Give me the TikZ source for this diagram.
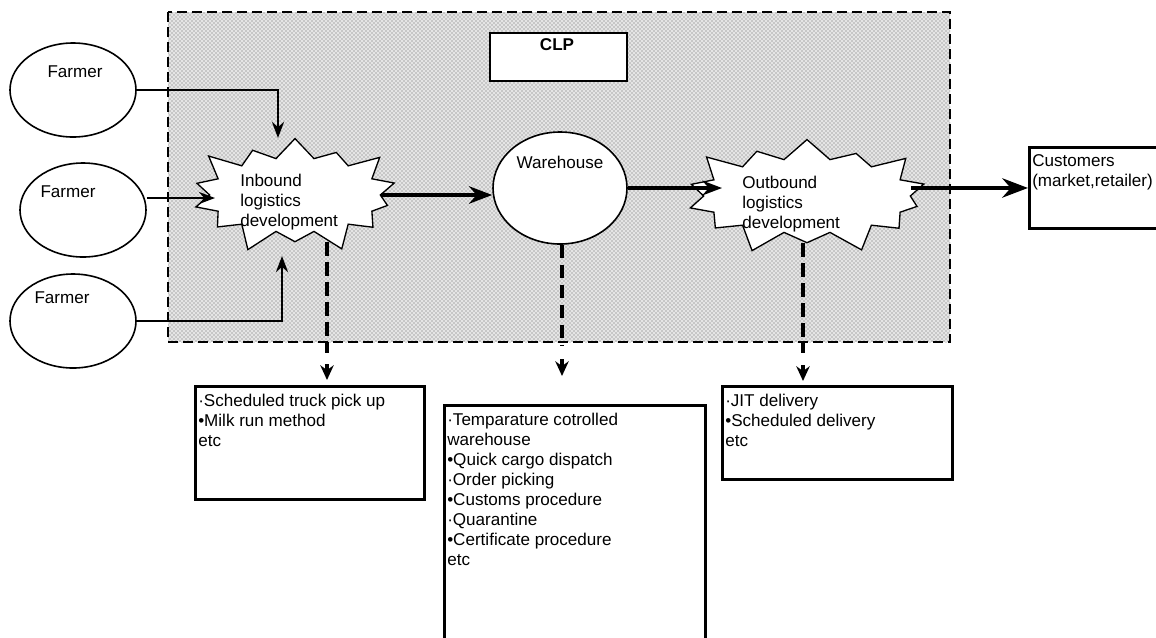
\documentclass[tikz,border=0pt]{standalone}
\usepackage{fontspec}
\setmainfont{Liberation Sans}
\usetikzlibrary{arrows.meta,shapes.geometric,shapes.symbols,patterns}
\begin{document}
\begin{tikzpicture}[x=0.75pt,y=-0.75pt,>=Stealth,font=\fontsize{12.8}{15}\selectfont]
\tikzstyle{farm}=[draw,ellipse,fill=white,line width=1.2pt,minimum width=94.5pt,minimum height=70.5pt,inner sep=0pt]
\tikzstyle{burst}=[draw,fill=white,starburst,random starburst=100,starburst points=14,starburst point height=20pt,line width=1pt,inner sep=0pt]
\tikzstyle{box}=[draw,fill=white,line width=2.2pt,anchor=north west,inner sep=0pt]
\tikzstyle{txt}=[anchor=north west,align=left,inner sep=3pt]
\tikzstyle{dline}=[line width=3pt,dash pattern=on 10pt off 5pt]
\tikzstyle{dtip}=[-{Stealth[length=11pt,width=10pt]},line width=3pt]
\useasboundingbox (0,0) rectangle (1156,637);
% CLP area
\fill[gray!20] (168,12) rectangle (950,342);
\path[pattern=crosshatch dots,pattern color=black!60] (168,12) rectangle (950,342);
\draw[line width=2.2pt,dash pattern=on 7.5pt off 3.75pt] (168,12) rectangle (950,342);
\node[box,line width=1.6pt,minimum width=102.75pt,minimum height=36pt] (clp) at (489,32) {};
\node[font=\fontsize{12.8}{15}\selectfont\bfseries] (clptxt) at (557,45) {CLP};
% farmers and warehouse
\node[farm] (f1) at (73,90) {};
\node (f1txt) at (75,72) {Farmer};
\node[farm] (f2) at (83,210) {};
\node (f2txt) at (68,192) {Farmer};
\node[farm] (f3) at (73,321) {};
\node (f3txt) at (62,298) {Farmer};
\node[farm,minimum width=100.5pt,minimum height=84pt] (wh) at (560,188) {};
\node (whtxt) at (560,162) {Warehouse};
\node[burst,minimum width=168pt,minimum height=96pt] (inb) at (295,195) {};
\node[txt,inner sep=0pt] (inbtxt) at (240,174) {Inbound\\logistics\\development};
\node[burst,minimum width=195pt,minimum height=96pt] (outb) at (807,196) {};
\node[txt,inner sep=0pt] (outbtxt) at (742,176) {Outbound\\logistics\\development};
% boxes
\node[box,minimum width=106.5pt,minimum height=60.75pt] (cust) at (1028,146) {};
\node[txt,yshift=-3pt] (custtxt) at (cust.north west) {Customers\\(market,retailer)};
\node[box,minimum width=171.75pt,minimum height=84.75pt] (b1) at (194,385) {};
\node[txt,yshift=-4pt] (b1txt) at (b1.north west) {·Scheduled truck pick up\\•Milk run method\\etc};
\node[box,minimum width=195.75pt,minimum height=180pt] (b2) at (443,404) {};
\node[txt,yshift=-4pt] (b2txt) at (b2.north west) {·Temparature cotrolled\\warehouse\\•Quick cargo dispatch\\·Order picking\\•Customs procedure\\·Quarantine\\•Certificate procedure\\etc};
\node[box,minimum width=172.5pt,minimum height=69.75pt] (b3) at (721,385) {};
\node[txt,yshift=-4pt] (b3txt) at (b3.north west) {·JIT delivery\\•Scheduled delivery\\etc};
% arrows
\coordinate (inbtop) at (278,138);
\coordinate (inbbot) at (282,256);
\coordinate (inbleft) at (215,198);
\coordinate (outbin) at (722,188);
\draw[->,line width=2pt] (f1.east) -| (inbtop);
\draw[->,line width=2pt] (f2.east |- inbleft) -- (inbleft);
\draw[->,line width=2pt] (f3.east) -| (inbbot);
\draw[->,line width=3.2pt] (inb.east) -- (inb.east -| wh.west);
\draw[->,line width=2.6pt] (wh.east |- outbin) -- (outbin);
\draw[->,line width=3.6pt] (outb.east |- cust.west) -- (cust.west);
% dashed links down to the boxes
\coordinate (d1a) at (327,353); \coordinate (d1b) at (327,364); \coordinate (d1) at (327,380);
\coordinate (d2a) at (562,346); \coordinate (d2b) at (562,359); \coordinate (d2) at (562,376);
\coordinate (d3a) at (803,353); \coordinate (d3b) at (803,365); \coordinate (d3) at (803,381);
\draw[dline] (inb.south -| d1) -- (d1a);
\draw[dtip] (d1b) -- (d1);
\draw[dline] (wh.south -| d2) -- (d2a);
\draw[dtip] (d2b) -- (d2);
\draw[dline] (outb.south -| d3) -- (d3a);
\draw[dtip] (d3b) -- (d3);
\end{tikzpicture}
\end{document}
